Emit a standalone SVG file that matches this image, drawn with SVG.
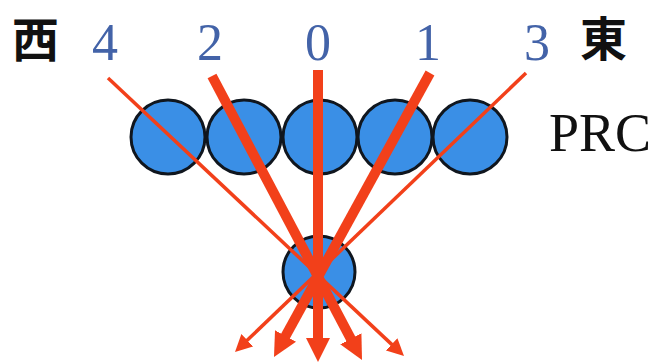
<svg xmlns="http://www.w3.org/2000/svg" width="663" height="364" viewBox="0 0 663 364">
<style>
.ion{fill:#3a8fe6;stroke:#10161e;stroke-width:3}
.ray{stroke:#f2401a;fill:none;stroke-linecap:butt}
.thick{stroke-width:10}
.thin{stroke-width:3.5}
.num{font-family:"Liberation Serif",serif;font-size:52px;fill:#4363a8;text-anchor:middle}
.cjk{font-family:"Noto Sans CJK JP","Noto Sans CJK SC",sans-serif;font-weight:bold;font-size:47px;fill:#111}
.prc{font-family:"Liberation Serif",serif;font-size:54px;fill:#111}
</style>
<defs>
<marker id="ahThick" markerUnits="userSpaceOnUse" markerWidth="24" markerHeight="24" refX="3" refY="12" orient="auto" viewBox="0 0 24 24">
<path d="M0,0 L24,12 L0,24 z" fill="#f2401a"/>
</marker>
<marker id="ahThin" markerUnits="userSpaceOnUse" markerWidth="17" markerHeight="17" refX="3" refY="8.5" orient="auto" viewBox="0 0 17 17">
<path d="M0,0 L17,8.5 L0,17 z" fill="#f2401a"/>
</marker>
</defs>
<rect width="663" height="364" fill="#fff"/>
<g id="west"><text class="cjk" x="12" y="57">西</text></g>
<g id="east"><text class="cjk" x="580" y="56">東</text></g>
<g id="label-4"><text class="num" x="105" y="60">4</text></g>
<g id="label-2"><text class="num" x="210" y="60">2</text></g>
<g id="label-0"><text class="num" x="318" y="60">0</text></g>
<g id="label-1"><text class="num" x="428" y="60">1</text></g>
<g id="label-3"><text class="num" x="537" y="60">3</text></g>
<g id="prc-label"><text class="prc" x="549" y="151">PRC</text></g>
<g id="prc-row">
<circle class="ion" cx="168" cy="137" r="37"/>
<circle class="ion" cx="244" cy="137" r="37"/>
<circle class="ion" cx="320" cy="137" r="37"/>
<circle class="ion" cx="395" cy="137" r="37"/>
<circle class="ion" cx="470" cy="137" r="37"/>
</g>
<g id="focus"><circle class="ion" cx="319" cy="272" r="36"/></g>
<g id="connectors">
<line class="ray thin" x1="108" y1="78" x2="393.8" y2="346.4" marker-end="url(#ahThin)"/>
<line class="ray thin" x1="526" y1="73" x2="245.1" y2="342.3" marker-end="url(#ahThin)"/>
<line class="ray thick" x1="212" y1="76" x2="352.2" y2="341.4" marker-end="url(#ahThick)"/>
<line class="ray thick" x1="430" y1="73" x2="284.1" y2="338.6" marker-end="url(#ahThick)"/>
<line class="ray thick" x1="318" y1="70" x2="318" y2="341" marker-end="url(#ahThick)"/>
</g>
</svg>
